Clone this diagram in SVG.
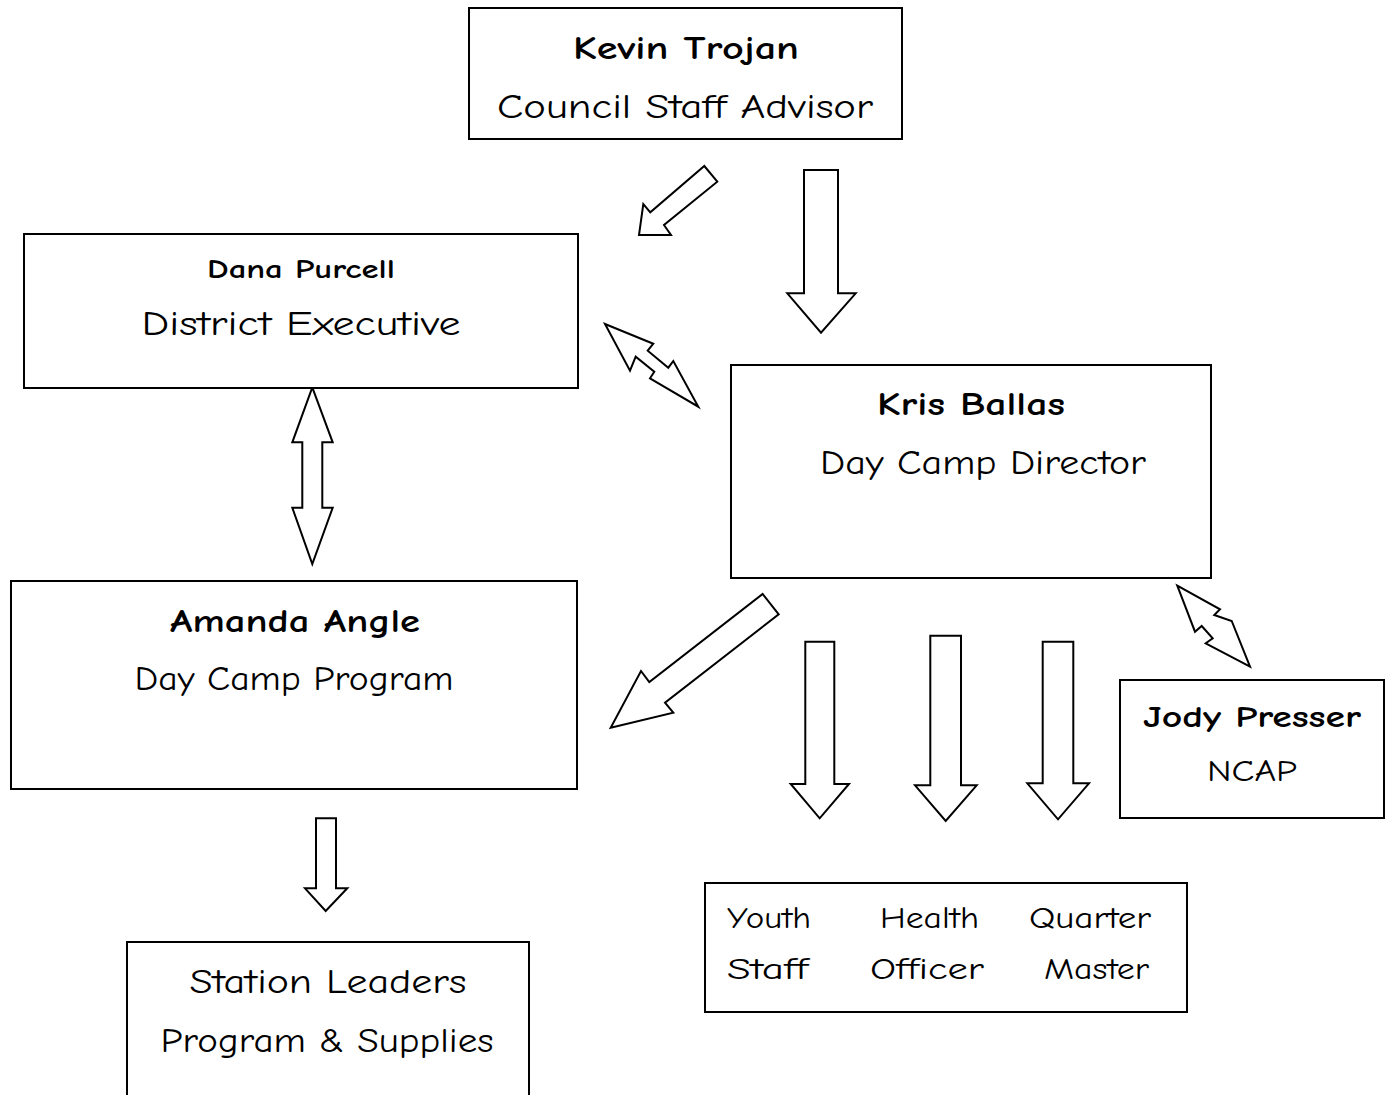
<svg xmlns="http://www.w3.org/2000/svg" width="1385" height="1095" viewBox="0 0 1385 1095">
<style>
.box{fill:#fff;stroke:#000;stroke-width:2}
.arr{fill:#fff;stroke:#000;stroke-width:2;stroke-linejoin:miter}
text{font-family:"Comic Sans MS","Comic Neue","DejaVu Sans",sans-serif;fill:#000}
.b{font-weight:bold}
.m{text-anchor:middle}
</style>
<rect width="1385" height="1095" fill="#fff"/>
<g id="connectors">
<polygon class="arr" points="704.3,166 717.3,181.7 664,225 671,235 639,235 643.3,204 650.3,212.3"/>
<polygon class="arr" points="804,170 838,170 838,293.3 855.7,293.3 821,332.7 787.3,293.3 804,293.3"/>
<polygon class="arr" points="605,324 653.3,343.7 647.7,350.7 668.3,367.7 673.3,361 698.3,406.7 650,378.3 654.3,371.7 635.7,356.7 630,370.7"/>
<polygon class="arr" points="312.3,387.3 332.7,442.3 322.3,442.3 322.3,507.7 332.7,507.7 312.3,564 292.3,507.7 302.3,507.7 302.3,442.3 292.3,442.3"/>
<polygon class="arr" points="762.7,594 778.7,614.3 665,702.7 673.3,712.7 610.7,727.7 641,671 649.3,682"/>
<polygon class="arr" points="805.3,641.7 834.3,641.7 834.3,784 849,784 819.7,818.3 790.7,784 805.3,784"/>
<polygon class="arr" points="930.3,635.7 961,635.7 961,785.3 976.7,785.3 945.7,821 915,785.3 930.3,785.3"/>
<polygon class="arr" points="1042.7,641.7 1073.3,641.7 1073.3,783.3 1089,783.3 1058,819.3 1027.3,783.3 1042.7,783.3"/>
<polygon class="arr" points="1177.3,585.7 1220,609.3 1214.3,615 1231.7,621 1250,666.7 1205.7,643.3 1212.7,638.3 1201.7,626 1195,631.7"/>
<polygon class="arr" points="316,818.3 336,818.3 336,888.3 347.3,888.3 325.7,911 305,888.3 316,888.3"/>
</g>
<g id="kevin">
<rect class="box" x="469" y="8" width="433" height="131"/>
<text class="b m" x="686" y="59" font-size="33" textLength="226" lengthAdjust="spacingAndGlyphs">Kevin Trojan</text>
<text class="m" x="685" y="118" font-size="34" textLength="376" lengthAdjust="spacingAndGlyphs">Council Staff Advisor</text>
</g>
<g id="dana">
<rect class="box" x="24" y="234" width="554" height="154"/>
<text class="b m" x="301" y="278" font-size="26" textLength="188" lengthAdjust="spacingAndGlyphs">Dana Purcell</text>
<text class="m" x="301" y="335" font-size="34" textLength="319" lengthAdjust="spacingAndGlyphs">District Executive</text>
</g>
<g id="kris">
<rect class="box" x="731" y="365" width="480" height="213"/>
<text class="b m" x="971" y="415" font-size="33" textLength="188" lengthAdjust="spacingAndGlyphs">Kris Ballas</text>
<text class="m" x="983" y="474" font-size="34" textLength="326" lengthAdjust="spacingAndGlyphs">Day Camp Director</text>
</g>
<g id="amanda">
<rect class="box" x="11" y="581" width="566" height="208"/>
<text class="b m" x="295" y="632" font-size="33" textLength="250" lengthAdjust="spacingAndGlyphs">Amanda Angle</text>
<text class="m" x="294" y="690" font-size="34" textLength="319" lengthAdjust="spacingAndGlyphs">Day Camp Program</text>
</g>
<g id="jody">
<rect class="box" x="1120" y="680" width="264" height="138"/>
<text class="b m" x="1252" y="727" font-size="30" textLength="218" lengthAdjust="spacingAndGlyphs">Jody Presser</text>
<text class="m" x="1252" y="781" font-size="30" textLength="90" lengthAdjust="spacingAndGlyphs">NCAP</text>
</g>
<g id="staff">
<rect class="box" x="705" y="883" width="482" height="129"/>
<text x="727" y="928" font-size="30" textLength="84" lengthAdjust="spacingAndGlyphs">Youth</text>
<text x="727" y="979" font-size="30" textLength="81" lengthAdjust="spacingAndGlyphs">Staff</text>
<text x="880" y="928" font-size="30" textLength="99" lengthAdjust="spacingAndGlyphs">Health</text>
<text x="870" y="979" font-size="30" textLength="114" lengthAdjust="spacingAndGlyphs">Officer</text>
<text x="1029" y="928" font-size="30" textLength="122" lengthAdjust="spacingAndGlyphs">Quarter</text>
<text x="1044" y="979" font-size="30" textLength="105" lengthAdjust="spacingAndGlyphs">Master</text>
</g>
<g id="station">
<rect class="box" x="127" y="942" width="402" height="160"/>
<text class="m" x="328" y="993" font-size="34" textLength="277" lengthAdjust="spacingAndGlyphs">Station Leaders</text>
<text class="m" x="327" y="1052" font-size="34" textLength="333" lengthAdjust="spacingAndGlyphs">Program &amp; Supplies</text>
</g>
</svg>
